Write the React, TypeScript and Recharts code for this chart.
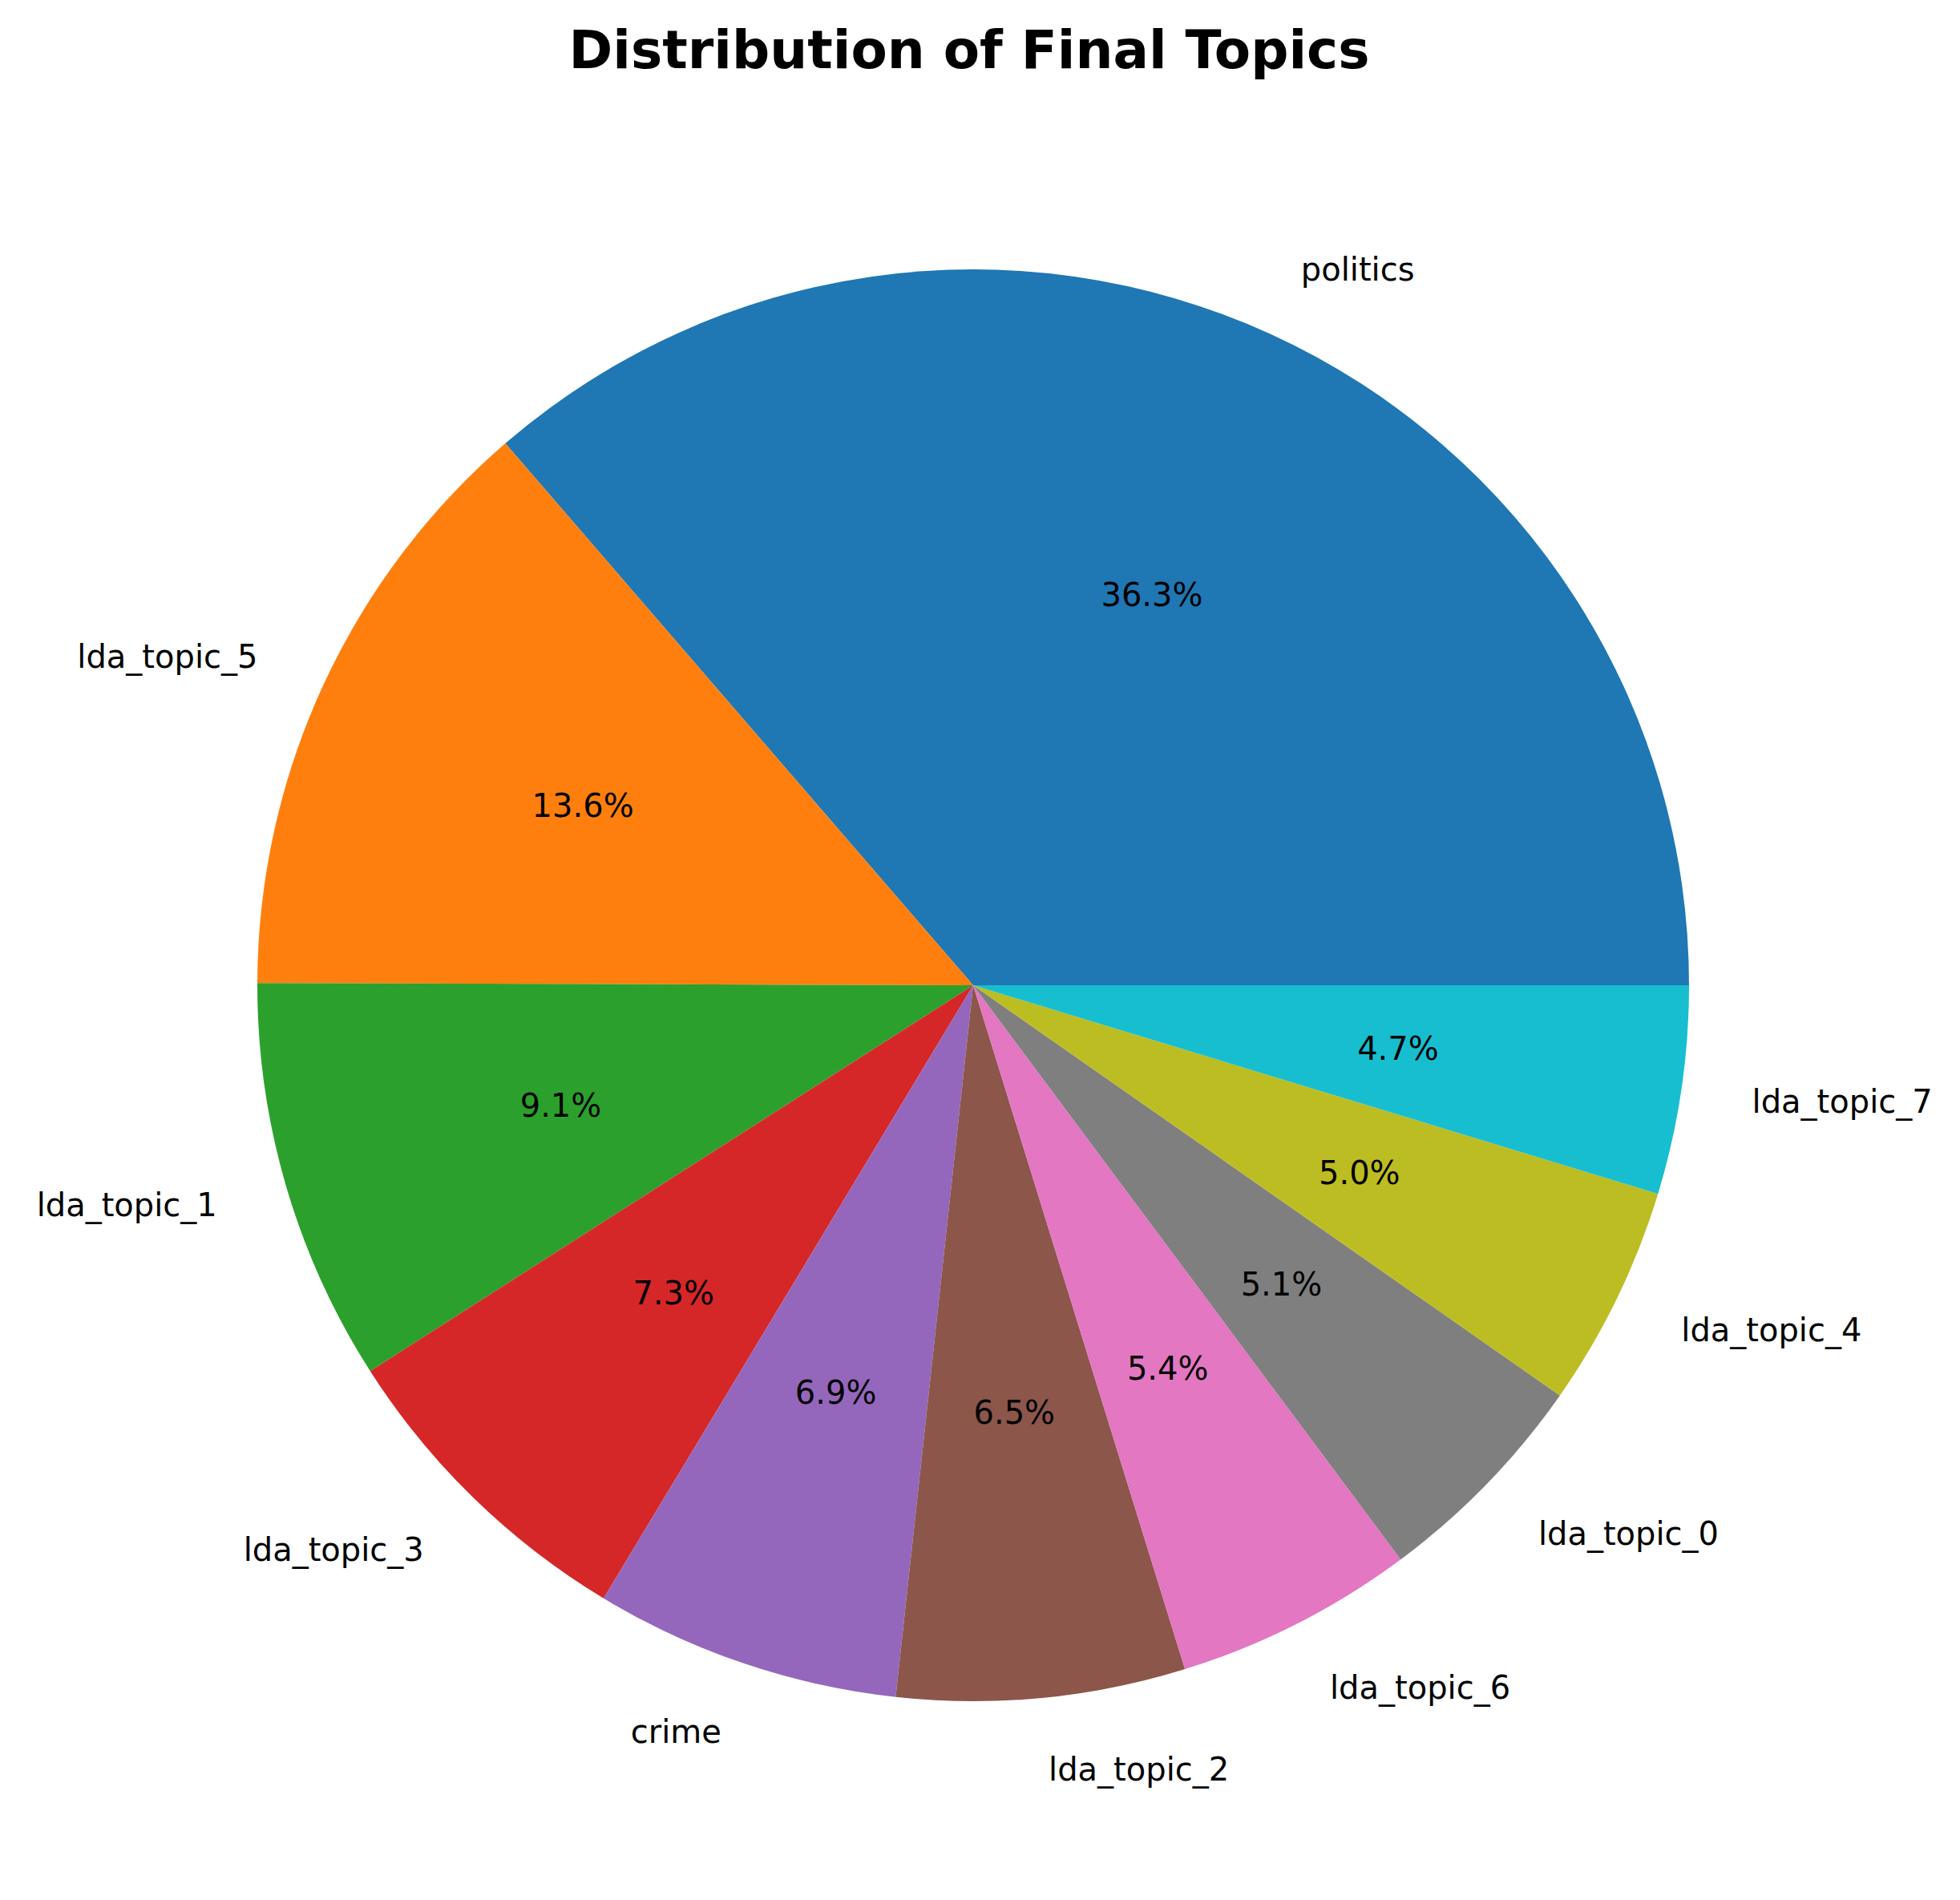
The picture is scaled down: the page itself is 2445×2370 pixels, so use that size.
import { PieChart, Pie, Cell } from "recharts";

const topics = [
  "politics",
  "lda_topic_5",
  "lda_topic_1",
  "lda_topic_3",
  "crime",
  "lda_topic_2",
  "lda_topic_6",
  "lda_topic_0",
  "lda_topic_4",
  "lda_topic_7",
];
const shares = [36.3, 13.6, 9.1, 7.3, 6.9, 6.5, 5.4, 5.1, 5.0, 4.7];
const colors = [
  "#1f77b4", "#ff7f0e", "#2ca02c", "#d62728", "#9467bd",
  "#8c564b", "#e377c2", "#7f7f7f", "#bcbd22", "#17becf",
];

const data = topics.map((name, i) => ({ name, value: shares[i] }));
const FONT = "DejaVu Sans, sans-serif";
const RAD = Math.PI / 180;

function renderLabel(props: any) {
  const { cx, cy, midAngle, outerRadius, name, value } = props;
  const c = Math.cos(midAngle * RAD);
  const s = Math.sin(midAngle * RAD);
  const lx = cx + outerRadius * 1.1 * c;
  const ly = cy - outerRadius * 1.1 * s;
  const px = cx + outerRadius * 0.6 * c;
  const py = cy - outerRadius * 0.6 * s;
  return (
    <g>
      <text x={lx} y={ly} textAnchor={c >= 0 ? "start" : "end"} dominantBaseline="central"
        fontFamily={FONT} fontSize={40} fill="#000">
        {name}
      </text>
      <text x={px} y={py} textAnchor="middle" dominantBaseline="central"
        fontFamily={FONT} fontSize={40} fill="#000">
        {value.toFixed(1)}%
      </text>
    </g>
  );
}

export default function App() {
  return (
    <div style={{ position: "absolute", left: 0, top: 0, width: 2445, height: 2370, background: "#fff" }}>
      <PieChart width={2445} height={2370}>
        <text x={1209} y={62} textAnchor="middle" dominantBaseline="central"
          fontFamily={FONT} fontSize={66} fontWeight="bold" fill="#000">
          Distribution of Final Topics
        </text>
        <Pie
          data={data}
          dataKey="value"
          nameKey="name"
          cx={1209}
          cy={1224}
          outerRadius={893}
          startAngle={0}
          endAngle={360}
          stroke="none"
          label={renderLabel}
          labelLine={false}
          isAnimationActive={false}
        >
          {data.map((d, i) => (
            <Cell key={d.name} fill={colors[i]} />
          ))}
        </Pie>
      </PieChart>
    </div>
  );
}
